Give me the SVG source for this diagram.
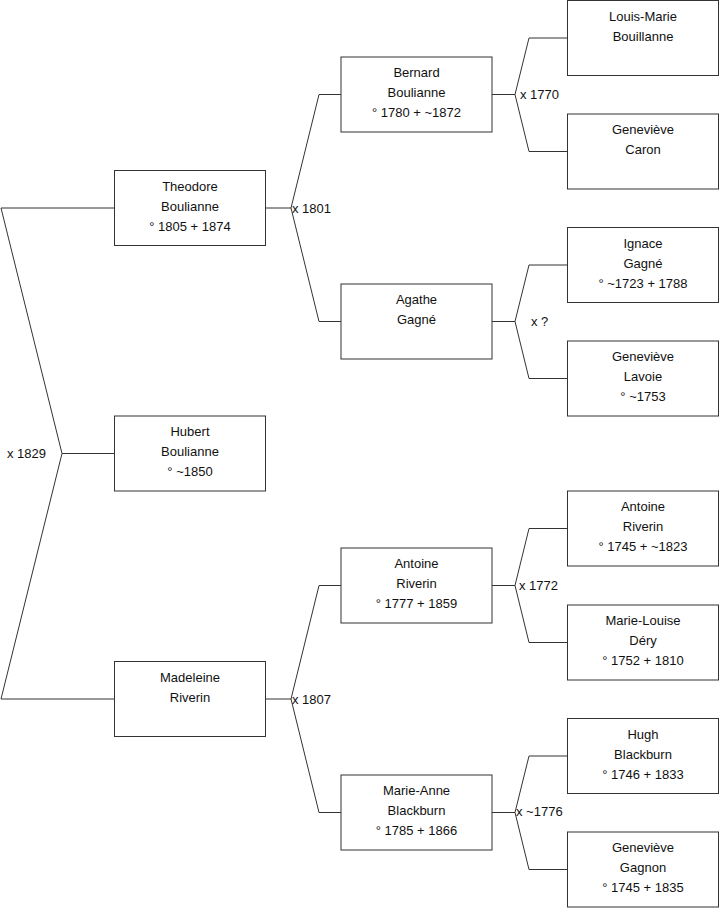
<svg xmlns="http://www.w3.org/2000/svg" width="719" height="908" viewBox="0 0 719 908">
<style>
.box{fill:#fff;stroke:#333;stroke-width:1}
.ln{fill:none;stroke:#333;stroke-width:1}
text{font-family:"Liberation Sans",Arial,sans-serif;font-size:13px;fill:#111}
.c{text-anchor:middle}
</style>
<rect width="719" height="908" fill="#fff"/>
<g id="connectors">
<polyline class="ln" points="114.5,208 1,208 62,453.5 1,699 114.5,699"/>
<line class="ln" x1="62" y1="453.5" x2="114.5" y2="453.5"/>
<polyline class="ln" points="341,94.5 319,94.5 291,208 319,321.5 341,321.5"/>
<line class="ln" x1="265.5" y1="208" x2="291" y2="208"/>
<polyline class="ln" points="341,585.5 319,585.5 291,699 319,812.5 341,812.5"/>
<line class="ln" x1="265.5" y1="699" x2="291" y2="699"/>
<polyline class="ln" points="567.5,38 529,38 515,94.5 529,151.5 567.5,151.5"/>
<line class="ln" x1="492" y1="94.5" x2="515" y2="94.5"/>
<polyline class="ln" points="567.5,265 529,265 515,321.5 529,378.5 567.5,378.5"/>
<line class="ln" x1="492" y1="321.5" x2="515" y2="321.5"/>
<polyline class="ln" points="567.5,528.5 529,528.5 515,585.5 529,642.5 567.5,642.5"/>
<line class="ln" x1="492" y1="585.5" x2="515" y2="585.5"/>
<polyline class="ln" points="567.5,756 529,756 515,812.5 529,869.5 567.5,869.5"/>
<line class="ln" x1="492" y1="812.5" x2="515" y2="812.5"/>
<text x="7" y="457.5">x 1829</text>
<text x="292" y="212.5">x 1801</text>
<text x="292" y="703.5">x 1807</text>
<text x="520" y="99">x 1770</text>
<text x="531" y="325.5">x ?</text>
<text x="519" y="590">x 1772</text>
<text x="516" y="815.5">x ~1776</text>
</g>
<g id="theodore"><rect class="box" x="114.5" y="170.5" width="151" height="75"/>
<text class="c" x="190" y="190.5">Theodore</text><text class="c" x="190" y="210.5">Boulianne</text><text class="c" x="190" y="230.5">° 1805 + 1874</text></g>
<g id="hubert"><rect class="box" x="114.5" y="416" width="151" height="75"/>
<text class="c" x="190" y="436">Hubert</text><text class="c" x="190" y="456">Boulianne</text><text class="c" x="190" y="476">° ~1850</text></g>
<g id="madeleine"><rect class="box" x="114.5" y="661.5" width="151" height="75"/>
<text class="c" x="190" y="681.5">Madeleine</text><text class="c" x="190" y="701.5">Riverin</text></g>
<g id="bernard"><rect class="box" x="341" y="57" width="151" height="75"/>
<text class="c" x="416.5" y="77">Bernard</text><text class="c" x="416.5" y="97">Boulianne</text><text class="c" x="416.5" y="117">° 1780 + ~1872</text></g>
<g id="agathe"><rect class="box" x="341" y="284" width="151" height="75"/>
<text class="c" x="416.5" y="304">Agathe</text><text class="c" x="416.5" y="324">Gagné</text></g>
<g id="antoine2"><rect class="box" x="341" y="548" width="151" height="75"/>
<text class="c" x="416.5" y="568">Antoine</text><text class="c" x="416.5" y="588">Riverin</text><text class="c" x="416.5" y="608">° 1777 + 1859</text></g>
<g id="marieanne"><rect class="box" x="341" y="775" width="151" height="75"/>
<text class="c" x="416.5" y="795">Marie-Anne</text><text class="c" x="416.5" y="815">Blackburn</text><text class="c" x="416.5" y="835">° 1785 + 1866</text></g>
<g id="louismarie"><rect class="box" x="567.5" y="0.5" width="151" height="75"/>
<text class="c" x="643" y="20.5">Louis-Marie</text><text class="c" x="643" y="40.5">Bouillanne</text></g>
<g id="genevievecaron"><rect class="box" x="567.5" y="114" width="151" height="75"/>
<text class="c" x="643" y="134">Geneviève</text><text class="c" x="643" y="154">Caron</text></g>
<g id="ignace"><rect class="box" x="567.5" y="227.5" width="151" height="75"/>
<text class="c" x="643" y="247.5">Ignace</text><text class="c" x="643" y="267.5">Gagné</text><text class="c" x="643" y="287.5">° ~1723 + 1788</text></g>
<g id="genevievelavoie"><rect class="box" x="567.5" y="341" width="151" height="75"/>
<text class="c" x="643" y="361">Geneviève</text><text class="c" x="643" y="381">Lavoie</text><text class="c" x="643" y="401">° ~1753</text></g>
<g id="antoine3"><rect class="box" x="567.5" y="491" width="151" height="75"/>
<text class="c" x="643" y="511">Antoine</text><text class="c" x="643" y="531">Riverin</text><text class="c" x="643" y="551">° 1745 + ~1823</text></g>
<g id="marielouise"><rect class="box" x="567.5" y="605" width="151" height="75"/>
<text class="c" x="643" y="625">Marie-Louise</text><text class="c" x="643" y="645">Déry</text><text class="c" x="643" y="665">° 1752 + 1810</text></g>
<g id="hugh"><rect class="box" x="567.5" y="718.5" width="151" height="75"/>
<text class="c" x="643" y="738.5">Hugh</text><text class="c" x="643" y="758.5">Blackburn</text><text class="c" x="643" y="778.5">° 1746 + 1833</text></g>
<g id="genevievegagnon"><rect class="box" x="567.5" y="832" width="151" height="75"/>
<text class="c" x="643" y="852">Geneviève</text><text class="c" x="643" y="872">Gagnon</text><text class="c" x="643" y="892">° 1745 + 1835</text></g>
</svg>
